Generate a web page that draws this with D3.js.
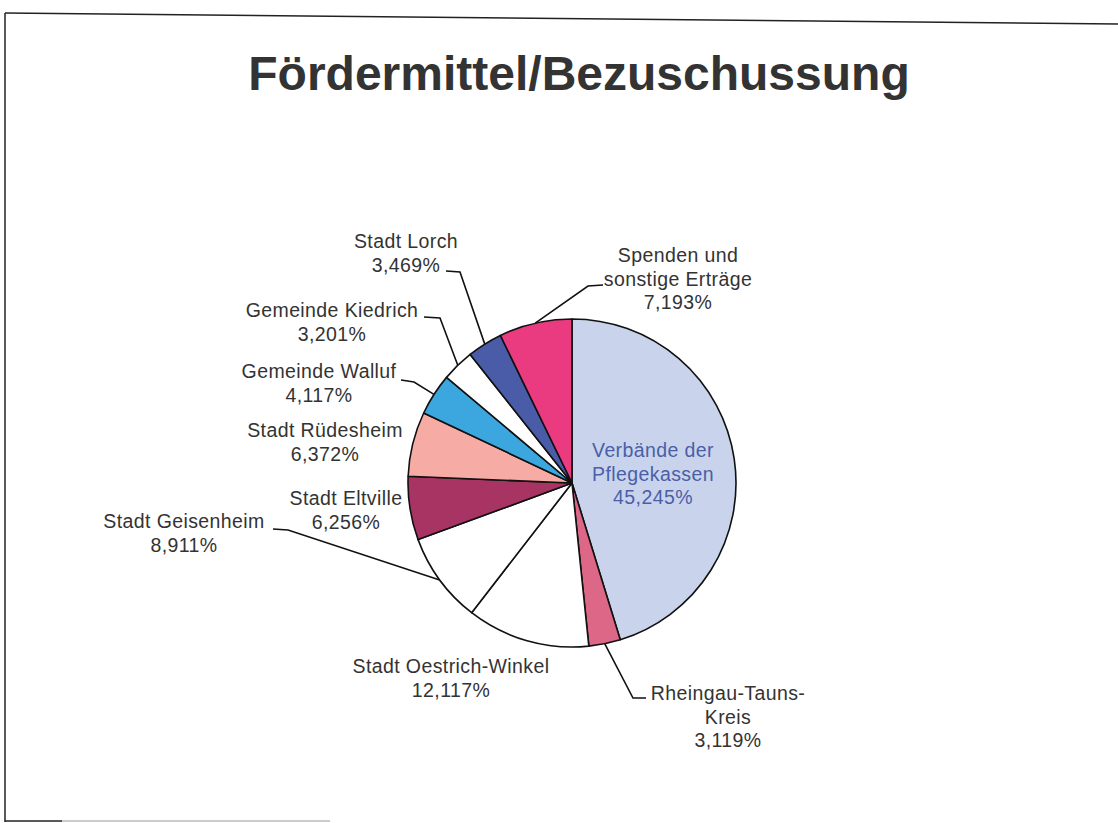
<!DOCTYPE html>
<html>
<head>
<meta charset="utf-8">
<script src="https://cdn.jsdelivr.net/npm/d3@7"></script>
<style>
body{margin:0;background:#fff}
svg{display:block}
.lbl{font-family:"Liberation Sans",Arial,sans-serif;font-size:19.5px;fill:#333;letter-spacing:0.4px}
</style>
</head>
<body>
<script>
// chart data, clockwise from 12 o'clock
var categories = ["Verbände der Pflegekassen","Rheingau-Tauns-Kreis","Stadt Oestrich-Winkel","Stadt Geisenheim",
	"Stadt Eltville","Stadt Rüdesheim","Gemeinde Walluf","Gemeinde Kiedrich","Stadt Lorch","Spenden und sonstige Erträge"]
var values = [45.245,3.119,12.117,8.911,6.256,6.372,4.117,3.201,3.469,7.193]
var colors = ["#c9d4ec","#dc6787","#ffffff","#ffffff","#a83464","#f7aba5","#3ba7de","#ffffff","#4a5ba8","#ea3b80"]
// how the name is broken into lines
var nameLines = [["Verbände der","Pflegekassen"],["Rheingau-Tauns-","Kreis"],["Stadt Oestrich-Winkel"],["Stadt Geisenheim"],
	["Stadt Eltville"],["Stadt Rüdesheim"],["Gemeinde Walluf"],["Gemeinde Kiedrich"],["Stadt Lorch"],["Spenden und","sonstige Erträge"]]
var title = "Fördermittel/Bezuschussung"

var width = 1118, height = 823
var cx = 572, cy = 483, radius = 164

// label placement: centre x, first baseline, elbow + end of the leader (null = no leader)
var layout = [
	{x:653,y:457,elbow:null,end:null,fill:"#4a5fa8"},
	{x:728,y:700,elbow:[633,698],end:[646,698]},
	{x:451,y:673,elbow:null,end:null},
	{x:184,y:528,elbow:[288,530],end:[273,529]},
	{x:346,y:505,elbow:null,end:null},
	{x:325,y:437,elbow:null,end:null},
	{x:319,y:378,elbow:[414,382],end:[401,380]},
	{x:332,y:317,elbow:[440,318],end:[424,317]},
	{x:406,y:248,elbow:[460,272],end:[446,271]},
	{x:678,y:262,elbow:[588,286],end:[603,285]}
]

var svg = d3.select("body").append("svg")
	.attr("width",width)
	.attr("height",height)

// scanned page frame
svg.append("line").attr("x1",5).attr("y1",13).attr("x2",1118).attr("y2",24)
	.attr("stroke","#222").attr("stroke-width",1.5)
svg.append("line").attr("x1",5).attr("y1",13).attr("x2",5).attr("y2",822)
	.attr("stroke","#222").attr("stroke-width",1.5)
svg.append("line").attr("x1",5).attr("y1",821).attr("x2",62).attr("y2",821)
	.attr("stroke","#222").attr("stroke-width",1.5)
svg.append("line").attr("x1",62).attr("y1",821).attr("x2",330).attr("y2",821)
	.attr("stroke","#bbb").attr("stroke-width",1.5)

svg.append("text")
	.attr("x",579).attr("y",90)
	.attr("text-anchor","middle")
	.style("font-family","'Liberation Sans',Arial,sans-serif")
	.style("font-weight","bold")
	.style("font-size","48px")
	.style("fill","#333")
	.text(title)

var pie = d3.pie().sort(null).value(function(d){return d})
var arcs = pie(values)
var arc = d3.arc().innerRadius(0).outerRadius(radius)

var g = svg.append("g").attr("transform","translate("+cx+","+cy+")")
g.selectAll("path")
	.data(arcs)
	.enter()
	.append("path")
	.attr("d",arc)
	.attr("fill",function(d,i){return colors[i]})
	.attr("stroke","#111")
	.attr("stroke-width",1.6)
	.attr("stroke-linejoin","round")

function pct(v){return v.toFixed(3).replace(".",",")+"%"}

// leaders: from the middle of the slice edge to the elbow, then along to the label
arcs.forEach(function(d,i)
{
	var L = layout[i]
	if (!L.elbow) return
	var a = (d.startAngle+d.endAngle)/2
	var px = cx + radius*Math.sin(a)
	var py = cy - radius*Math.cos(a)
	svg.append("polyline")
		.attr("points",[[px,py],L.elbow,L.end].map(function(p){return p.join(",")}).join(" "))
		.attr("fill","none")
		.attr("stroke","#111")
		.attr("stroke-width",1.6)
})

arcs.forEach(function(d,i)
{
	var L = layout[i]
	var lines = nameLines[i].concat([pct(values[i])])
	var t = svg.append("text")
		.attr("class","lbl")
		.attr("text-anchor","middle")
		.attr("x",L.x).attr("y",L.y)
	if (L.fill) t.style("fill",L.fill)
	lines.forEach(function(s,k)
	{
		t.append("tspan").attr("x",L.x).attr("dy",k==0?0:23.5).text(s)
	})
})
</script>
</body>
</html>
